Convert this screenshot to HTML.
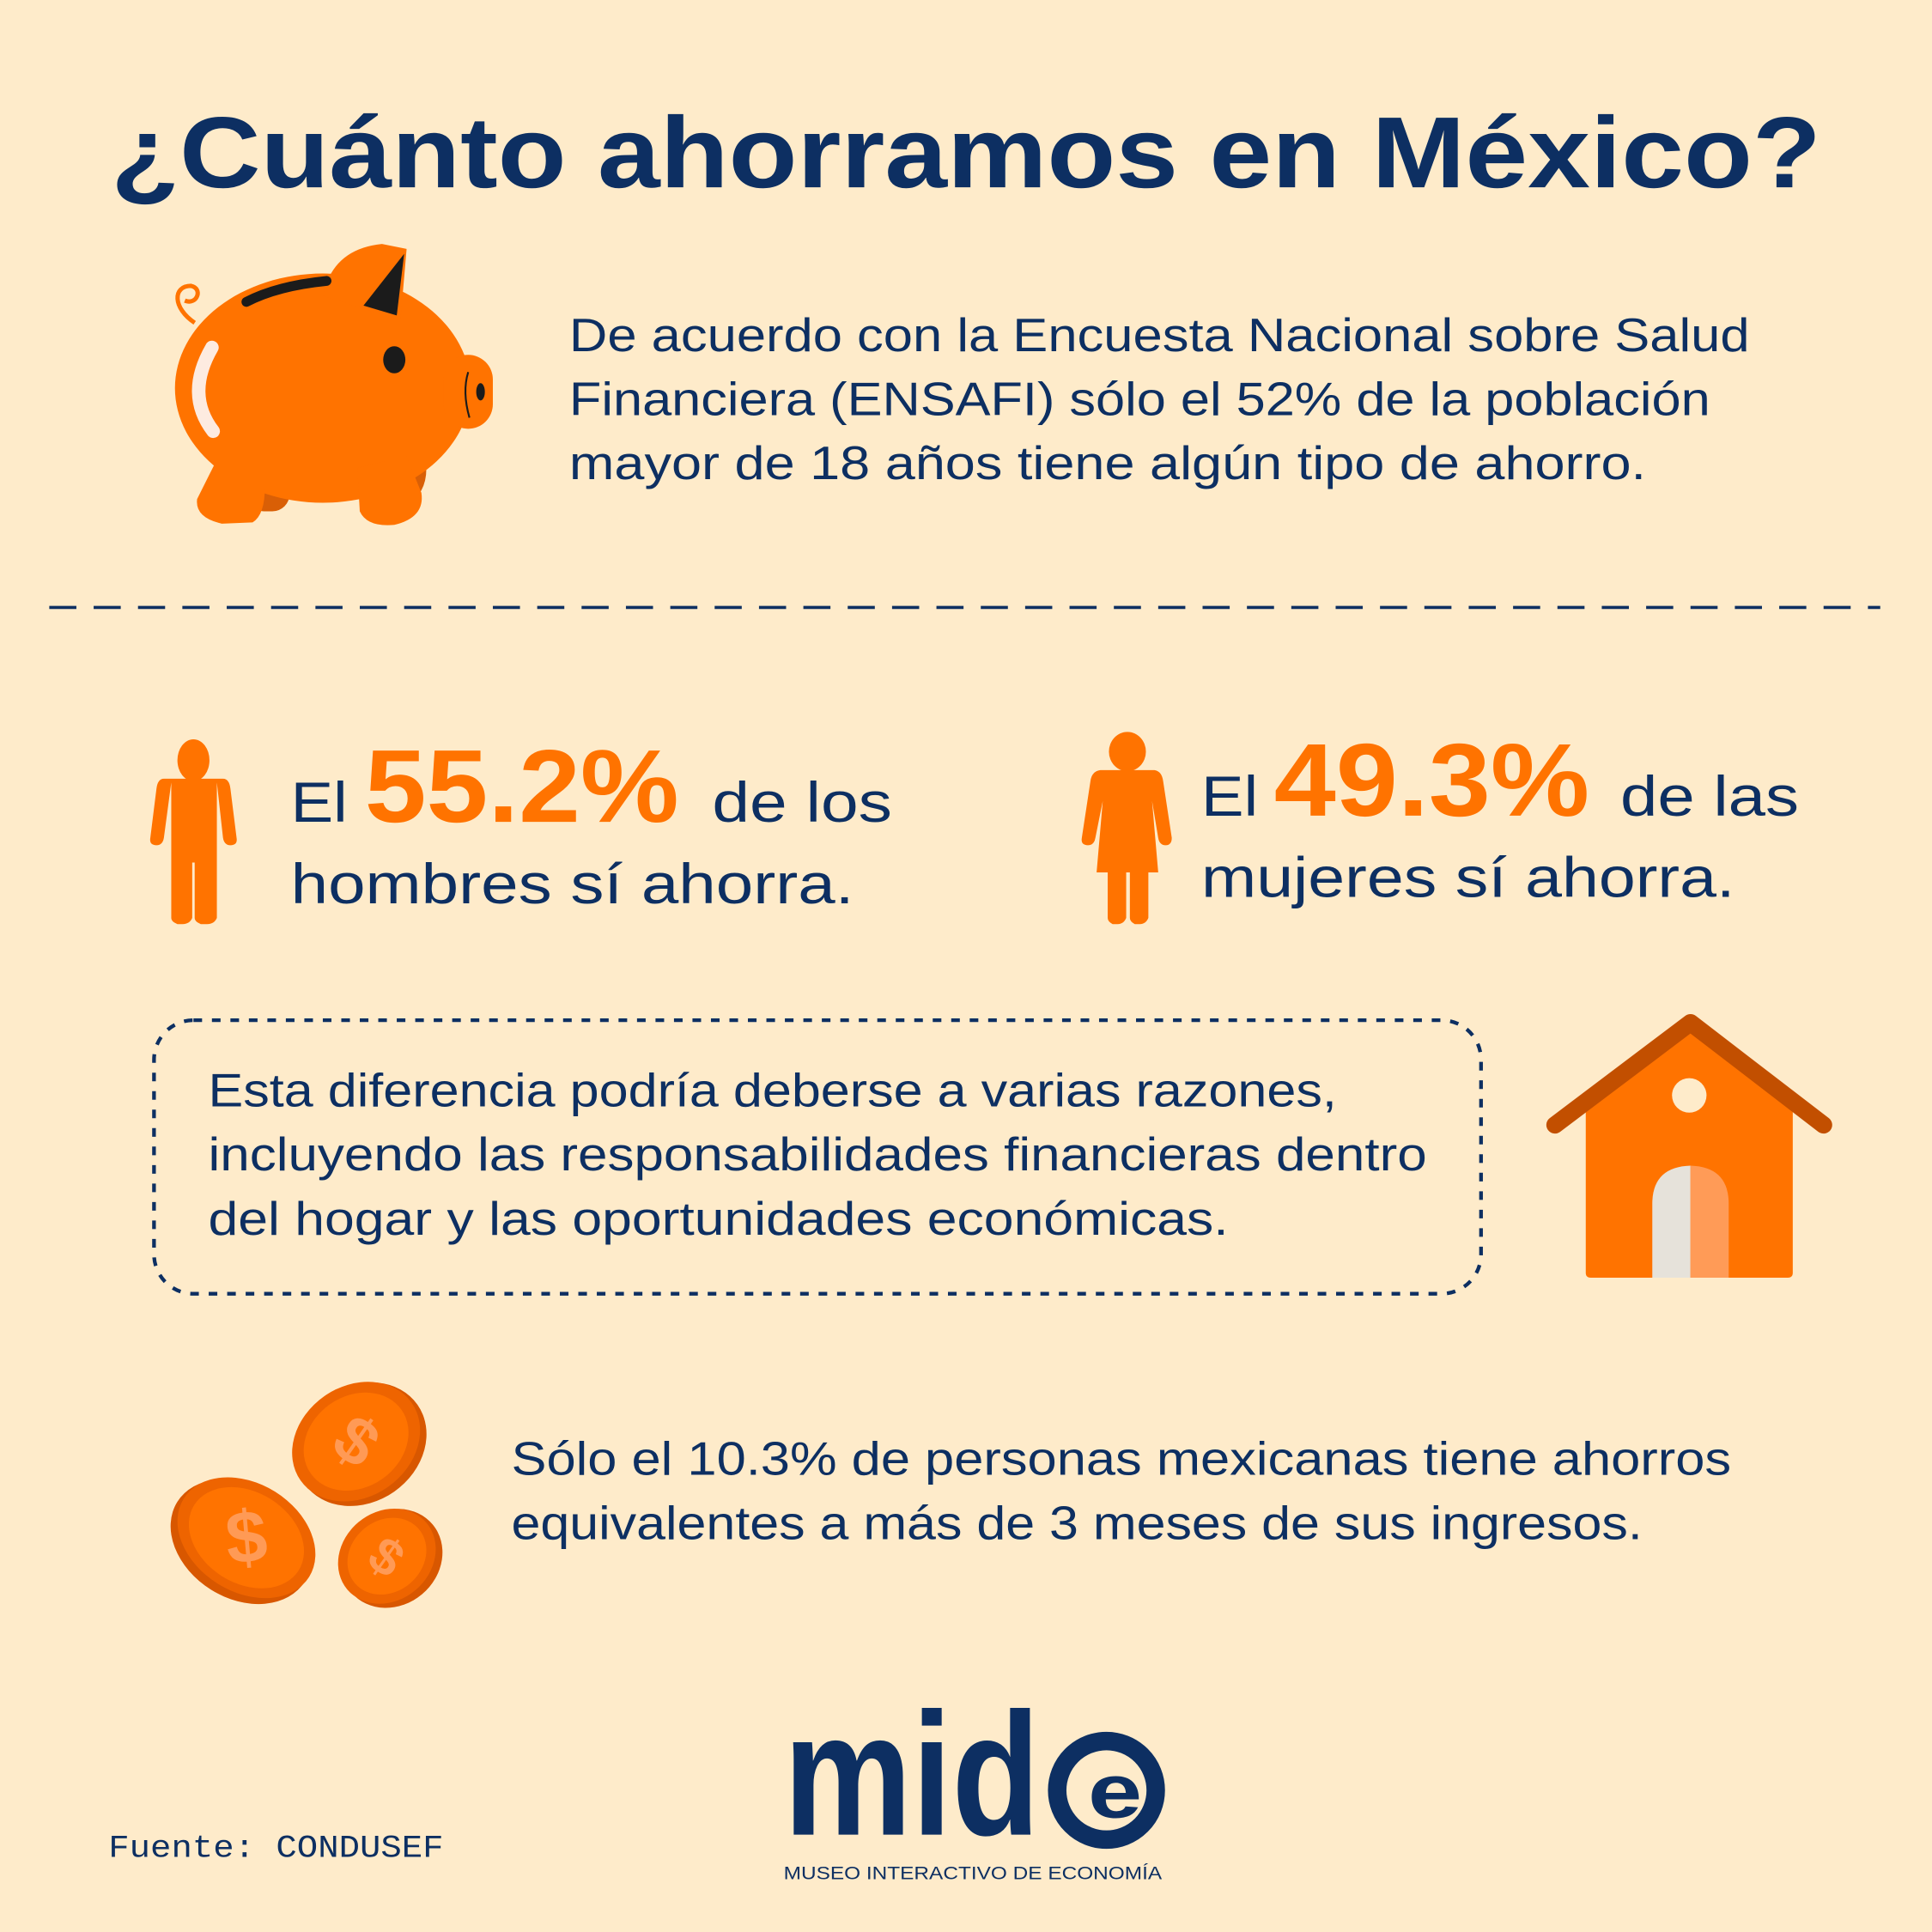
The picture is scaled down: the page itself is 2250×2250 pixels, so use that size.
<!DOCTYPE html>
<html><head><meta charset="utf-8"><style>
html,body{margin:0;padding:0;background:#FEEBCA;}
svg{display:block}
text{font-family:"Liberation Sans",sans-serif;fill:#0D2F62}
</style></head><body>
<svg width="2250" height="2250" viewBox="0 0 1568 1568" xmlns="http://www.w3.org/2000/svg">
<rect width="1568" height="1568" fill="#FEEBCA"/>
<text x="90" y="152" font-size="82" font-weight="bold" textLength="1388" lengthAdjust="spacingAndGlyphs">¿Cuánto ahorramos en México?</text>

<!-- pig -->
<g>
<path d="M158 262 C140 250 140 232 155 232 C165 234 160 248 150 244" fill="none" stroke="#FF7300" stroke-width="3.5"/>
<path d="M325 330 L345 370 Q350 398 330 410 L300 415 Z" fill="#D95F06"/>
<rect x="200" y="360" width="35" height="55" rx="14" fill="#D95F06"/>
<ellipse cx="262" cy="315" rx="120" ry="93" fill="#FF7300"/>
<path d="M175 375 L160 405 Q158 420 180 425 L205 424 Q215 418 215 395 Z" fill="#FF7300"/>
<path d="M290 380 L292 415 Q298 428 320 426 Q345 420 342 400 L330 370 Z" fill="#FF7300"/>
<path d="M262 240 Q270 202 310 198 L330 202 L325 260 Z" fill="#FF7300"/>
<path d="M295 248 L328 206 L322 256 Z" fill="#1B1B1B"/>
<path d="M200 245 Q225 232 265 228" fill="none" stroke="#1B1B1B" stroke-width="8" stroke-linecap="round"/>
<rect x="360" y="288" width="40" height="60" rx="20" fill="#FF7300"/>
<ellipse cx="320" cy="292" rx="9" ry="11" fill="#1B1B1B"/>
<ellipse cx="390" cy="318" rx="3.5" ry="7" fill="#1B1B1B"/>
<path d="M380 302 Q375 318 381 339" fill="none" stroke="#1B1B1B" stroke-width="1.5"/>
<path d="M172 282 Q150 320 173 350" fill="none" stroke="#FDEBE0" stroke-width="11" stroke-linecap="round"/>
</g>

<g font-size="38">
<text x="462" y="285" textLength="958" lengthAdjust="spacingAndGlyphs">De acuerdo con la Encuesta Nacional sobre Salud</text>
<text x="462" y="337" textLength="926" lengthAdjust="spacingAndGlyphs">Financiera (ENSAFI) sólo el 52% de la población</text>
<text x="462" y="389" textLength="874" lengthAdjust="spacingAndGlyphs">mayor de 18 años tiene algún tipo de ahorro.</text>
</g>

<line x1="40" y1="493" x2="1526" y2="493" stroke="#0D2F62" stroke-width="2.5" stroke-dasharray="22 14"/>

<!-- man -->
<g fill="#FF7300">
<ellipse cx="157" cy="617" rx="13" ry="17"/>
<path d="M133 632 L181 632 Q186 632 187 640 L192 680 Q193 686 187 686 Q182 686 181 680 L176 635 L176 745 Q174 750 168 750 L163 750 Q158 748 158 745 L158 700 L156 700 L156 745 Q154 750 148 750 L144 750 Q139 748 139 745 L139 635 L133 680 Q132 686 127 686 Q121 686 122 680 L127 640 Q128 632 133 632 Z"/>
</g>
<text x="236" y="667" font-size="46" textLength="46" lengthAdjust="spacingAndGlyphs">El</text>
<text x="296" y="667" font-size="84" font-weight="bold" style="fill:#FF7300" textLength="255" lengthAdjust="spacingAndGlyphs">55.2%</text>
<text x="578" y="667" font-size="46" textLength="146" lengthAdjust="spacingAndGlyphs">de los</text>
<text x="236" y="733" font-size="46" textLength="457" lengthAdjust="spacingAndGlyphs">hombres sí ahorra.</text>

<!-- woman -->
<g fill="#FF7300">
<ellipse cx="915" cy="610" rx="15" ry="16"/>
<path d="M893 625 L937 625 Q943 626 944 634 L951 680 Q951 686 946 686 Q941 686 940 680 L935 650 L940 708 L932 708 L932 745 Q930 750 925 750 L921 750 Q917 748 917 745 L917 708 L914 708 L914 745 Q912 750 907 750 L903 750 Q899 748 899 745 L899 708 L890 708 L895 650 L889 680 Q888 686 883 686 Q877 686 878 680 L885 634 Q886 626 893 625 Z"/>
</g>
<text x="975" y="662" font-size="46" textLength="46" lengthAdjust="spacingAndGlyphs">El</text>
<text x="1034" y="662" font-size="84" font-weight="bold" style="fill:#FF7300" textLength="256" lengthAdjust="spacingAndGlyphs">49.3%</text>
<text x="1315" y="662" font-size="46" textLength="145" lengthAdjust="spacingAndGlyphs">de las</text>
<text x="975" y="728" font-size="46" textLength="433" lengthAdjust="spacingAndGlyphs">mujeres sí ahorra.</text>

<rect x="125" y="828" width="1077" height="222" rx="32" fill="none" stroke="#0D2F62" stroke-width="3" stroke-dasharray="7 8"/>
<g font-size="38">
<text x="169" y="898" textLength="916" lengthAdjust="spacingAndGlyphs">Esta diferencia podría deberse a varias razones,</text>
<text x="169" y="950" textLength="989" lengthAdjust="spacingAndGlyphs">incluyendo las responsabilidades financieras dentro</text>
<text x="169" y="1002" textLength="828" lengthAdjust="spacingAndGlyphs">del hogar y las oportunidades económicas.</text>
</g>

<!-- house -->
<path d="M1287 893 L1371 836 L1455 893 L1455 1033 Q1455 1037 1451 1037 L1291 1037 Q1287 1037 1287 1033 Z" fill="#FF7300"/>
<path d="M1262 913 L1372 830 L1480 913" fill="none" stroke="#C24F00" stroke-width="14" stroke-linecap="round" stroke-linejoin="round"/>
<circle cx="1371" cy="889" r="14" fill="#FEEBCA"/>
<path d="M1341 1037 L1341 977 Q1341 947 1372 946 L1372 1037 Z" fill="#E6E2DA"/>
<path d="M1372 1037 L1372 946 Q1403 947 1403 977 L1403 1037 Z" fill="#FF9B57"/>

<!-- coins -->
<g>
<g transform="translate(289 1170) rotate(-35)">
<ellipse cx="2" cy="4" rx="56" ry="47" fill="#D85700"/>
<ellipse cx="0" cy="0" rx="55" ry="45" fill="#EE6400"/>
<ellipse cx="0" cy="0" rx="45" ry="37" fill="#FF7300"/>
</g>
<text x="289" y="1188" font-size="54" font-weight="bold" text-anchor="middle" style="fill:#FF9A55" transform="rotate(35 289 1170)">$</text>
<g transform="translate(200 1248) rotate(32)">
<ellipse cx="-2" cy="5" rx="61" ry="46" fill="#D85700"/>
<ellipse cx="0" cy="0" rx="60" ry="44" fill="#EE6400"/>
<ellipse cx="0" cy="0" rx="50" ry="37" fill="#FF7300"/>
</g>
<text x="200" y="1268" font-size="60" font-weight="bold" text-anchor="middle" style="fill:#FF9A55" transform="rotate(-5 200 1248)">$</text>
<g transform="translate(314 1263) rotate(-40)">
<ellipse cx="2" cy="4" rx="43" ry="38" fill="#D85700"/>
<ellipse cx="0" cy="0" rx="42" ry="36" fill="#EE6400"/>
<ellipse cx="0" cy="0" rx="34" ry="29" fill="#FF7300"/>
</g>
<text x="314" y="1278" font-size="42" font-weight="bold" text-anchor="middle" style="fill:#FF9A55" transform="rotate(35 314 1263)">$</text>
</g>
<g font-size="38">
<text x="415" y="1197" textLength="990" lengthAdjust="spacingAndGlyphs">Sólo el 10.3% de personas mexicanas tiene ahorros</text>
<text x="415" y="1249" textLength="918" lengthAdjust="spacingAndGlyphs">equivalentes a más de 3 meses de sus ingresos.</text>
</g>

<!-- logo -->
<text x="636" y="1489" font-size="142" font-weight="bold" textLength="208" lengthAdjust="spacingAndGlyphs">mid</text>
<circle cx="898" cy="1453" r="40" fill="none" stroke="#0D2F62" stroke-width="15"/>
<text x="905" y="1475" font-size="62" font-weight="bold" text-anchor="middle" textLength="44" lengthAdjust="spacingAndGlyphs">e</text>
<text x="636" y="1525" font-size="15" textLength="307" lengthAdjust="spacingAndGlyphs">MUSEO INTERACTIVO DE ECONOMÍA</text>

<text x="88" y="1507" font-size="26" style="font-family:'Liberation Mono',monospace" textLength="272" lengthAdjust="spacingAndGlyphs">Fuente: CONDUSEF</text>
</svg>
</body></html>
